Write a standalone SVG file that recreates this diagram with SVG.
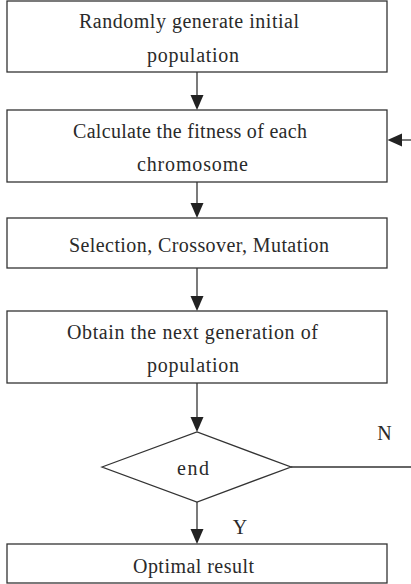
<svg xmlns="http://www.w3.org/2000/svg" width="411" height="584" viewBox="0 0 411 584">
<style>
.box{fill:#fff;stroke:#333;stroke-width:1.3}
.t{font-family:"Liberation Serif","Times New Roman",serif;font-size:20px;fill:#2a2a2a;text-anchor:middle}
.c{stroke:#333;stroke-width:1.3;fill:none}
.a{fill:#222}
</style>
<rect width="411" height="584" fill="#fff"/>
<g id="connectors">
<line class="c" x1="197" y1="72" x2="197" y2="97"/>
<path class="a" d="M190.5,95 L203.5,95 L197,110 Z"/>
<line class="c" x1="197" y1="182" x2="197" y2="205"/>
<path class="a" d="M190.5,203 L203.5,203 L197,218 Z"/>
<line class="c" x1="197" y1="268" x2="197" y2="298"/>
<path class="a" d="M190.5,296 L203.5,296 L197,311 Z"/>
<line class="c" x1="197" y1="383" x2="197" y2="419"/>
<path class="a" d="M190.5,417 L203.5,417 L197,432 Z"/>
<line class="c" x1="197" y1="502" x2="197" y2="531"/>
<path class="a" d="M190.5,529 L203.5,529 L197,544 Z"/>
<line class="c" x1="291" y1="467" x2="411" y2="467"/>
<line class="c" x1="400" y1="140" x2="411" y2="140"/>
<path class="a" d="M402,133.5 L402,146.5 L387.5,140 Z"/>
<text class="t" x="384.5" y="440">N</text>
<text class="t" x="240" y="534">Y</text>
</g>
<g id="n1">
<rect class="box" x="7" y="1" width="380" height="71"/>
<text class="t" x="189" y="28" textLength="220">Randomly generate initial</text>
<text class="t" x="193" y="62" textLength="92">population</text>
</g>
<g id="n2">
<rect class="box" x="7" y="110" width="380" height="72"/>
<text class="t" x="190" y="138" textLength="234">Calculate the fitness of each</text>
<text class="t" x="192.5" y="171" textLength="111">chromosome</text>
</g>
<g id="n3">
<rect class="box" x="7" y="218" width="380" height="50"/>
<text class="t" x="199" y="252" textLength="260">Selection, Crossover, Mutation</text>
</g>
<g id="n4">
<rect class="box" x="7" y="311" width="380" height="72"/>
<text class="t" x="192.5" y="339" textLength="251">Obtain the next generation of</text>
<text class="t" x="193" y="372" textLength="92">population</text>
</g>
<g id="n5">
<path class="box" d="M102,467 L197,432 L291,467 L197,502 Z"/>
<text class="t" x="193" y="475" textLength="32">end</text>
</g>
<g id="n6">
<rect class="box" x="7" y="544" width="380" height="39"/>
<text class="t" x="193.5" y="573" textLength="121">Optimal result</text>
</g>
</svg>
